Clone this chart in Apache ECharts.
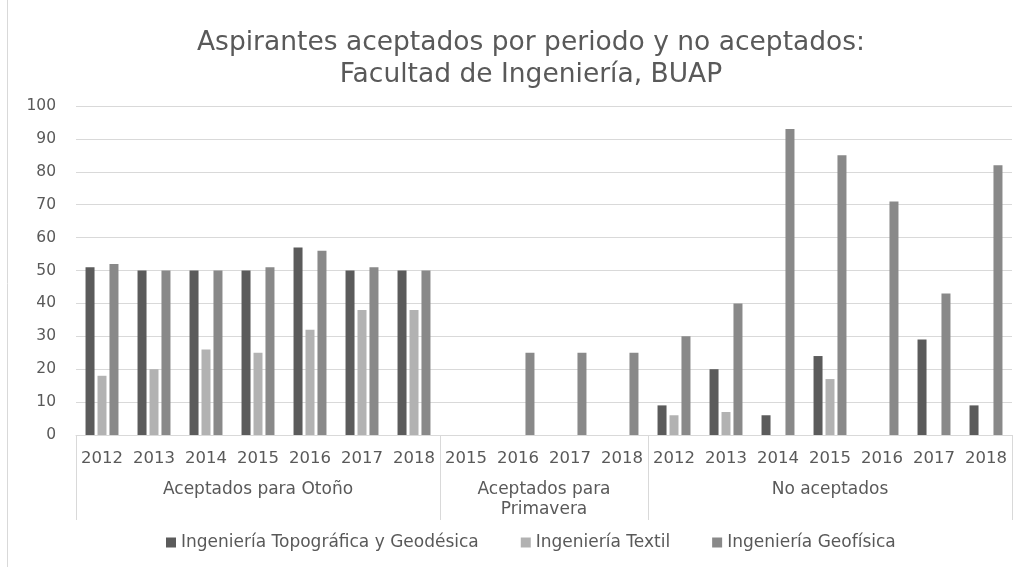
<!DOCTYPE html>
<html>
<head>
<meta charset="utf-8">
<script src="https://cdn.jsdelivr.net/npm/echarts@6/dist/echarts.min.js"></script>
<style>html,body{margin:0;padding:0;background:#fff;}#c{width:1029px;height:569px;}</style>
</head>
<body>
<div id="c"></div>
<script>
const years = ['2012','2013','2014','2015','2016','2017','2018','2015','2016','2017','2018','2012','2013','2014','2015','2016','2017','2018'];
const groups = ['Aceptados para Otoño', 'Aceptados para\nPrimavera', 'No aceptados'];
const groupCenters = [3.5, 9, 14.5];
const groupStarts = [0, 7, 11];
const seriesNames = ['Ingeniería Topográfica y Geodésica', 'Ingeniería Textil', 'Ingeniería Geofísica'];
const topografica = [51,50,50,50,57,50,50, 0,0,0,0, 9,20,6,24,0,29,9];
const textil      = [18,20,26,25,32,38,38, 0,0,0,0, 6,7,0,17,0,0,0];
const geofisica   = [52,50,50,51,56,51,50, 0,25,25,25, 30,40,93,85,71,43,82];
const yTicks = [0,10,20,30,40,50,60,70,80,90,100];

const FONT = 'DejaVu Sans';
const TXT = '#595959';
const GRIDC = '#d9d9d9';
const colors = ['#5b5b5b', '#b2b2b2', '#898989'];

const chart = echarts.init(document.getElementById('c'));
const mk = (name, data, color) => ({
  name, type: 'bar', data, xAxisIndex: 0,
  barWidth: 9, barGap: '33%',
  itemStyle: { color },
  emphasis: { disabled: true }
});
chart.setOption({
  animation: false,
  textStyle: { fontFamily: FONT },
  title: {
    text: 'Aspirantes aceptados por periodo y no aceptados:\nFacultad de Ingeniería, BUAP',
    left: 526, top: 22, textAlign: 'center',
    textStyle: { fontFamily: FONT, fontSize: 26.5, fontWeight: 'normal', color: TXT, lineHeight: 32 }
  },
  legend: {
    bottom: 13, left: 161,
    itemWidth: 10, itemHeight: 10, itemGap: 42,
    icon: 'rect',
    textStyle: { fontFamily: FONT, fontSize: 17, color: TXT },
    data: seriesNames
  },
  graphic: [{
    type: 'line', shape: { x1: 7.5, y1: 0, x2: 7.5, y2: 567 },
    style: { stroke: GRIDC, lineWidth: 1 }, silent: true
  }],
  grid: { left: 76, right: 17, top: 106, bottom: 134 },
  xAxis: [
    {
      type: 'category', data: years, position: 'bottom',
      axisLine: { show: true, lineStyle: { color: GRIDC, width: 1 } },
      axisTick: { show: false },
      axisLabel: { color: TXT, fontSize: 16.5, fontFamily: FONT, margin: 15, interval: 0 }
    },
    {
      type: 'category', data: years, position: 'bottom',
      axisLine: { show: false },
      axisTick: { show: true, length: 85, lineStyle: { color: GRIDC, width: 1 },
        interval: (i) => groupStarts.indexOf(i) >= 0 },
      axisLabel: { show: false }
    },
    {
      type: 'value', min: 0, max: years.length, interval: 0.5, position: 'bottom',
      axisLine: { show: false }, axisTick: { show: false }, splitLine: { show: false },
      axisLabel: {
        color: TXT, fontSize: 17, fontFamily: FONT, margin: 45, lineHeight: 20,
        verticalAlign: 'top', showMinLabel: true, showMaxLabel: true,
        formatter: (v) => { const k = groupCenters.indexOf(v); return k >= 0 ? groups[k] : ''; }
      }
    }
  ],
  yAxis: {
    type: 'value', min: yTicks[0], max: yTicks[yTicks.length - 1], interval: yTicks[1] - yTicks[0],
    axisLine: { show: false }, axisTick: { show: false },
    splitLine: { lineStyle: { color: GRIDC, width: 1 } },
    axisLabel: { color: TXT, fontSize: 15.5, fontFamily: FONT, margin: 20 }
  },
  series: [
    mk(seriesNames[0], topografica, colors[0]),
    mk(seriesNames[1], textil, colors[1]),
    mk(seriesNames[2], geofisica, colors[2])
  ]
});
</script>
</body>
</html>
